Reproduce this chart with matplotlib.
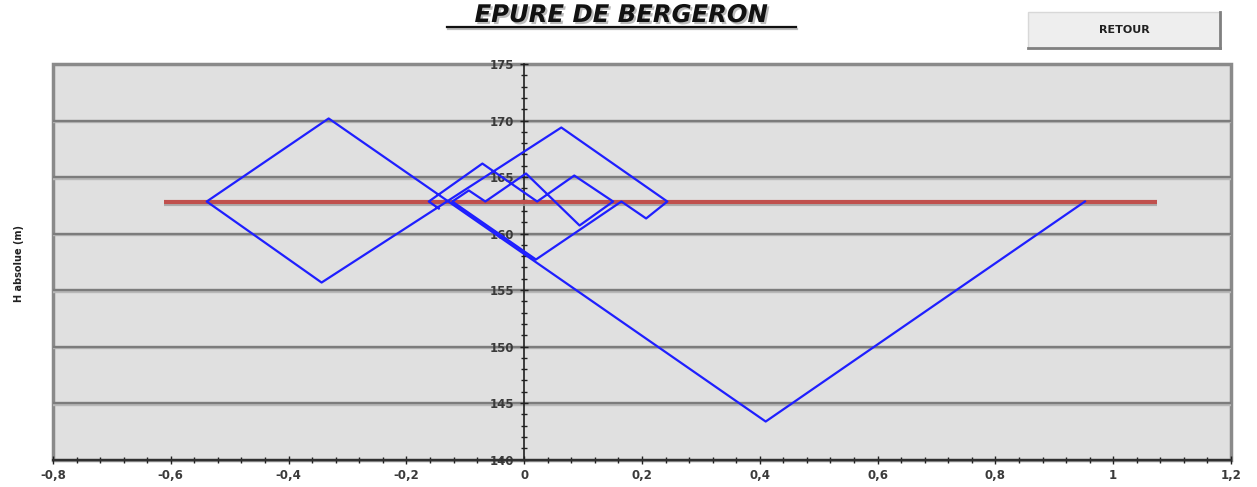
import matplotlib
matplotlib.use("Agg")
import matplotlib.pyplot as plt
import matplotlib.patheffects as pe
from matplotlib.patches import Rectangle
from matplotlib.lines import Line2D
from matplotlib.ticker import MultipleLocator, FuncFormatter

# Epure de Bergeron : debit (x) et charge absolue H (y)
debit = [0.952, 0.410, -0.332, -0.539, -0.344, 0.063, 0.243, 0.207, 0.165,
         0.020, -0.122, -0.094, -0.066, 0.003, 0.094, 0.151, 0.085, 0.022,
         -0.071, -0.162, -0.145]
charge = [162.83, 143.36, 170.18, 162.83, 155.66, 169.38, 162.83, 161.33, 162.83,
          157.70, 162.83, 163.81, 162.83, 165.31, 160.71, 162.83, 165.13, 162.83,
          166.19, 162.83, 162.21]

# niveau du reservoir (ligne rouge)
q_reservoir = [-0.611, 1.075]
h_reservoir = [162.83, 162.83]

W, H = 1257, 487
fig = plt.figure(figsize=(W / 100, H / 100), dpi=100)
fig.patch.set_facecolor("white")

x0, x1 = 53, 1231
y0, y1 = 64, 459.5
ax = fig.add_axes([x0 / W, 1 - y1 / H, (x1 - x0) / W, (y1 - y0) / H])
ax.set_facecolor("#e0e0e0")
ax.set_xlim(-0.8, 1.2)
ax.set_ylim(140, 175)

# quadrillage horizontal facon Excel
for v in range(145, 175, 5):
    ax.axhline(v, color="#7c7c7c", lw=1.7, zorder=1,
               path_effects=[pe.SimpleLineShadow(offset=(0, -1.2), shadow_color="#b8b8b8", alpha=1),
                             pe.Normal()])

ax.plot(q_reservoir, h_reservoir, color="#c0504d", lw=3, zorder=3, solid_capstyle="butt",
        path_effects=[pe.SimpleLineShadow(offset=(0, -2), shadow_color="#a0a0a0", alpha=0.8),
                      pe.Normal()])
ax.plot(debit, charge, color="#1f1fff", lw=1.6, zorder=4)

# axes
for s in ["top", "right"]:
    ax.spines[s].set_visible(False)
ax.spines["left"].set_position(("data", 0))
ax.spines["left"].set_color("#202020")
ax.spines["left"].set_linewidth(1.2)
ax.spines["bottom"].set_color("#303030")
ax.spines["bottom"].set_linewidth(1.6)
ax.spines["left"].set_zorder(2)

ax.xaxis.set_major_locator(MultipleLocator(0.2))
ax.xaxis.set_minor_locator(MultipleLocator(0.04))
ax.yaxis.set_major_locator(MultipleLocator(5))
ax.yaxis.set_minor_locator(MultipleLocator(1))
ax.xaxis.set_major_formatter(FuncFormatter(lambda v, p: ("%g" % round(v, 2)).replace(".", ",")))
ax.yaxis.set_major_formatter(FuncFormatter(lambda v, p: "%d" % v))
ax.tick_params(axis="both", which="major", direction="inout", length=6, width=1, color="#202020")
ax.tick_params(axis="both", which="minor", direction="inout", length=4, width=1, color="#202020")
ax.tick_params(axis="x", labelsize=8.5, labelcolor="#3a3a3a", pad=4)
ax.tick_params(axis="y", labelsize=8.5, labelcolor="#3a3a3a", pad=4)
for lab in ax.get_xticklabels() + ax.get_yticklabels():
    lab.set_fontweight("bold")

# cadre de la zone de tracé
ax.add_patch(Rectangle((0, 0), 1, 1, transform=ax.transAxes, fill=False,
                       edgecolor="#8a8a8a", lw=2.5, clip_on=False, zorder=0.5))

fig.text(19 / W, 1 - 263 / H, "H absolue (m)", rotation=90, ha="center", va="center",
         fontsize=7, fontweight="bold", color="#202020")

# titre souligné
t = fig.text(621 / W, 1 - 15 / H, "EPURE DE BERGERON", ha="center", va="center",
             fontsize=17.5, fontweight="bold", style="italic", color="#111111")
t.set_path_effects([pe.SimplePatchShadow(offset=(1.5, -1.5), shadow_rgbFace="#909090", alpha=0.6),
                    pe.Normal()])
fig.add_artist(Line2D([447 / W, 796 / W], [1 - 27 / H, 1 - 27 / H], color="#111111", lw=1.6,
                      path_effects=[pe.SimpleLineShadow(offset=(1, -1.5), shadow_color="#909090", alpha=0.6),
                                    pe.Normal()]))

# bouton RETOUR
bx, by, bw, bh = 1028, 12, 192, 36
fig.add_artist(Rectangle((bx / W, 1 - (by + bh) / H), bw / W, bh / H, transform=fig.transFigure,
                         facecolor="#eeeeee", edgecolor="#d8d8d8", lw=1))
fig.add_artist(Line2D([(bx + bw) / W, (bx + bw) / W], [1 - (by + bh) / H, 1 - by / H],
                      color="#808080", lw=2))
fig.add_artist(Line2D([bx / W, (bx + bw) / W], [1 - (by + bh) / H, 1 - (by + bh) / H],
                      color="#808080", lw=2))
fig.text((bx + bw / 2) / W, 1 - (by + bh / 2) / H, "RETOUR", ha="center", va="center",
         fontsize=8, fontweight="bold", color="#202020")

fig.savefig("out.png", dpi=100)
